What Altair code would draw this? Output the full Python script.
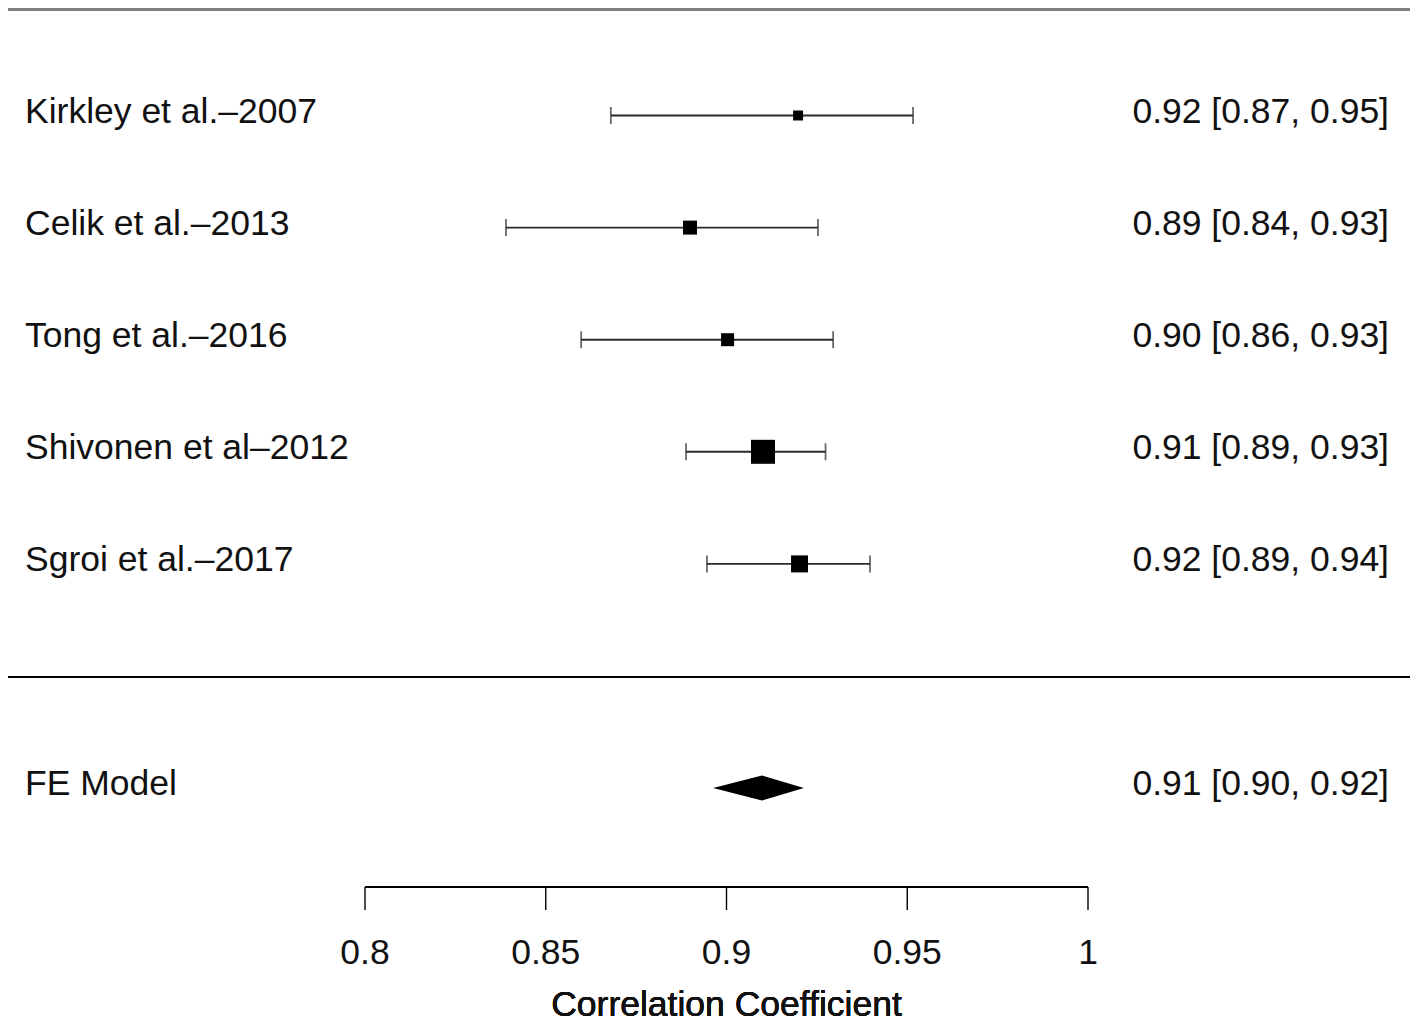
import altair as alt
import pandas as pd

# ---- data ----
studies = ["Kirkley et al.–2007", "Celik et al.–2013", "Tong et al.–2016",
           "Shivonen et al–2012", "Sgroi et al.–2017"]
rows = [5, 4, 3, 2, 1]
est = [0.9198, 0.8899, 0.9003, 0.9101, 0.9202]
ci_lo = [0.8680, 0.8390, 0.8598, 0.8888, 0.8946]
ci_hi = [0.9516, 0.9253, 0.9295, 0.9274, 0.9397]
weights = [7.5, 14.7, 12.7, 43.3, 21.7]
right_labels = ["0.92 [0.87, 0.95]", "0.89 [0.84, 0.93]", "0.90 [0.86, 0.93]",
                "0.91 [0.89, 0.93]", "0.92 [0.89, 0.94]"]

fe_label = "FE Model"
fe_row = -1
fe_est = 0.9098
fe_lo = 0.8963
fe_hi = 0.9214
fe_right = "0.91 [0.90, 0.92]"

tick_values = [0.8, 0.85, 0.9, 0.95, 1.0]
tick_labels = ["0.8", "0.85", "0.9", "0.95", "1"]
x_title = "Correlation Coefficient"

# ---- layout ----
W, H = 1402, 1017
FONT = "Liberation Sans"
FS = 35.5
TXT = "#111111"
PX_PER_UNIT = 3615.0
x_lo = 0.8 - 357 / PX_PER_UNIT
x_hi = x_lo + W / PX_PER_UNIT
PX_PER_ROW = 112.1
y_hi = 5 + 107.5 / PX_PER_ROW
y_lo = y_hi - H / PX_PER_ROW
DIAMOND_HALF = 12.5 / PX_PER_ROW

xs = alt.Scale(domain=[x_lo, x_hi], nice=False, zero=False)
ys = alt.Scale(domain=[y_lo, y_hi], nice=False, zero=False)

df = pd.DataFrame({"study": studies, "row": rows, "est": est, "lo": ci_lo,
                   "hi": ci_hi, "w": weights, "rl": right_labels})
fe_df = pd.DataFrame({"label": [fe_label], "row": [fe_row], "rl": [fe_right]})
dia = pd.DataFrame({
    "x": [fe_lo, fe_est, fe_hi],
    "y": [fe_row, fe_row + DIAMOND_HALF, fe_row],
    "y2": [fe_row, fe_row - DIAMOND_HALF, fe_row],
})
ticks = pd.DataFrame({"v": tick_values, "lab": tick_labels})
labels_df = pd.concat([
    df[["study", "row", "rl"]].rename(columns={"study": "label"}),
    fe_df,
])

base = alt.Chart(df)

top_line = alt.Chart(ticks).mark_rule(color="#808080", strokeWidth=2.5).encode(
    x=alt.value(0), x2=alt.value(W), y=alt.value(1.5))
sep_line = alt.Chart(ticks).mark_rule(color="#000000", strokeWidth=1.6).encode(
    x=alt.value(0), x2=alt.value(W), y=alt.value(669))
axis_line = alt.Chart(ticks).mark_rule(color="#000000", strokeWidth=1.4).encode(
    x=alt.datum(tick_values[0], type="quantitative", scale=xs),
    x2=alt.datum(tick_values[-1]),
    y=alt.value(879))
axis_ticks = alt.Chart(ticks).mark_rule(color="#000000", strokeWidth=1.4).encode(
    x=alt.X("v:Q", scale=xs), y=alt.value(879), y2=alt.value(902))
axis_labels = alt.Chart(ticks).mark_text(
    font=FONT, fontSize=FS, baseline="alphabetic", align="center", color=TXT
).encode(x=alt.X("v:Q", scale=xs), y=alt.value(956), text="lab:N")
axis_title = alt.Chart(ticks).mark_text(
    font=FONT, fontSize=FS, baseline="alphabetic", align="center", color=TXT
).encode(x=alt.datum(0.9, type="quantitative", scale=xs), y=alt.value(1008),
         text=alt.value(x_title))

whisk = base.mark_rule(color="#2a2a2a", strokeWidth=1.9).encode(
    x=alt.X("lo:Q", scale=xs), x2="hi:Q", y=alt.Y("row:Q", scale=ys))
cap_lo = base.mark_tick(orient="vertical", size=17, thickness=1.8, color="#2a2a2a").encode(
    x=alt.X("lo:Q", scale=xs), y=alt.Y("row:Q", scale=ys))
cap_hi = base.mark_tick(orient="vertical", size=17, thickness=1.8, color="#2a2a2a").encode(
    x=alt.X("hi:Q", scale=xs), y=alt.Y("row:Q", scale=ys))
squares = base.mark_square(color="#000000", opacity=1, filled=True).encode(
    x=alt.X("est:Q", scale=xs), y=alt.Y("row:Q", scale=ys),
    size=alt.Size("w:Q", scale=alt.Scale(domain=[0, 100], range=[0, 1330], zero=True),
                  legend=None))
diamond = alt.Chart(dia).mark_area(color="#000000", opacity=1).encode(
    x=alt.X("x:Q", scale=xs), y=alt.Y("y:Q", scale=ys), y2="y2:Q")
left_text = alt.Chart(labels_df).mark_text(
    font=FONT, fontSize=FS, baseline="alphabetic", align="left", dy=7, color=TXT
).encode(x=alt.value(17), y=alt.Y("row:Q", scale=ys), text="label:N")
right_text = alt.Chart(labels_df).mark_text(
    font=FONT, fontSize=FS, baseline="alphabetic", align="right", dy=7, color=TXT
).encode(x=alt.value(1381), y=alt.Y("row:Q", scale=ys), text="rl:N")

chart = alt.layer(
    top_line, sep_line, axis_line, axis_ticks, axis_labels, axis_title,
    whisk, cap_lo, cap_hi, squares, diamond, left_text, right_text
).properties(
    width=W, height=H, padding=0,
    autosize=alt.AutoSizeParams(type="none"),
    background="white",
).configure_view(stroke=None).configure_axisX(disable=True).configure_axisY(disable=True)

chart.save("out.html", embed_options={"renderer": "svg", "actions": False})
